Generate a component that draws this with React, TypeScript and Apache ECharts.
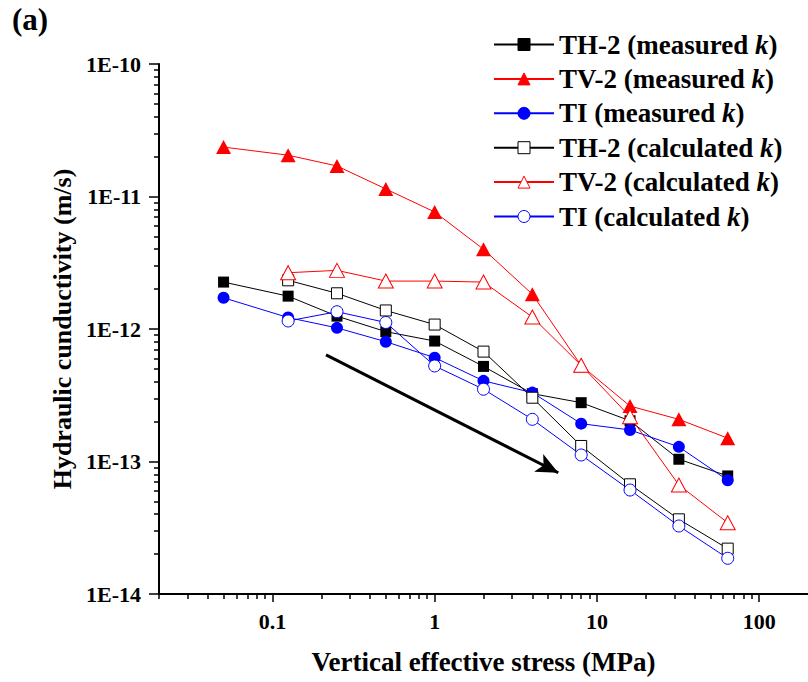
import React, { useEffect, useRef } from 'react';
import * as echarts from 'echarts';

// ---------- data ----------
const stressMeasured = [0.05, 0.125, 0.25, 0.5, 1, 2, 4, 8, 16, 32, 64];
const stressCalculated = [0.125, 0.25, 0.5, 1, 2, 4, 8, 16, 32, 64];

const th2Measured = [2.26e-12, 1.77e-12, 1.25e-12, 9.55e-13, 8.11e-13, 5.22e-13, 3.25e-13, 2.78e-13, 2.03e-13, 1.04e-13, 7.78e-14];
const tv2Measured = [2.36e-11, 2.05e-11, 1.7e-11, 1.14e-11, 7.64e-12, 4.0e-12, 1.83e-12, 5.3e-13, 2.62e-13, 2.08e-13, 1.5e-13];
const tiMeasured = [1.72e-12, 1.22e-12, 1.02e-12, 8.02e-13, 6.08e-13, 4.06e-13, 3.31e-13, 1.93e-13, 1.73e-13, 1.29e-13, 7.22e-14];

const th2Calculated = [2.33e-12, 1.86e-12, 1.38e-12, 1.08e-12, 6.75e-13, 3.03e-13, 1.31e-13, 6.73e-14, 3.66e-14, 2.2e-14];
const tv2Calculated = [2.66e-12, 2.77e-12, 2.3e-12, 2.3e-12, 2.26e-12, 1.23e-12, 5.32e-13, 2.18e-13, 6.65e-14, 3.45e-14];
const tiCalculated = [1.15e-12, 1.35e-12, 1.12e-12, 5.26e-13, 3.51e-13, 2.08e-13, 1.12e-13, 6.09e-14, 3.26e-14, 1.86e-14];

const xMajorTicks = [0.1, 1, 10, 100];
const yMajorTicks = [1e-14, 1e-13, 1e-12, 1e-11, 1e-10];
const xDecades = [0.01, 0.1, 1, 10];
const yDecades = [1e-14, 1e-13, 1e-12, 1e-11];
const minorMultipliers = [2, 3, 4, 5, 6, 7, 8, 9];

// trend arrow (data coordinates: start, tip)
const arrowStart = [0.214, 6.37e-13];
const arrowEnd = [5.78, 8.22e-14];

const X_MIN = 0.02;
const X_MAX = 200;
const Y_MIN = 1e-14;
const Y_MAX = 1e-10;

const FONT = '"Liberation Serif", "Times New Roman", serif';

const xMinorTicks = xDecades
  .flatMap((d) => minorMultipliers.map((m) => Number((d * m).toPrecision(3))))
  .filter((v) => v >= X_MIN && v <= X_MAX);
const yMinorTicks = yDecades.flatMap((d) => minorMultipliers.map((m) => Number((d * m).toPrecision(3))));

type Spec = {
  name: string;
  xs: number[];
  ys: number[];
  symbol: string;
  size: number | number[];
  color: string;
  open: boolean;
};

const specs: Spec[] = [
  { name: 'TH-2 (measured k)', xs: stressMeasured, ys: th2Measured, symbol: 'rect', size: 11, color: '#000000', open: false },
  { name: 'TV-2 (measured k)', xs: stressMeasured, ys: tv2Measured, symbol: 'triangle', size: [15, 14], color: '#ff0000', open: false },
  { name: 'TI (measured k)', xs: stressMeasured, ys: tiMeasured, symbol: 'circle', size: 12, color: '#0000ff', open: false },
  { name: 'TH-2 (calculated k)', xs: stressCalculated, ys: th2Calculated, symbol: 'rect', size: 11, color: '#000000', open: true },
  { name: 'TV-2 (calculated k)', xs: stressCalculated, ys: tv2Calculated, symbol: 'triangle', size: [15, 14], color: '#ff0000', open: true },
  { name: 'TI (calculated k)', xs: stressCalculated, ys: tiCalculated, symbol: 'circle', size: 12, color: '#0000ff', open: true },
];

const fmtNum = (v: number) => String(Number(Number(v).toPrecision(3)));

export default function App() {
  const ref = useRef<HTMLDivElement>(null);

  useEffect(() => {
    if (!ref.current) return;
    const chart = echarts.init(ref.current, null, { renderer: 'svg' });

    const series: any[] = specs.map((s, i) => ({
      type: 'line',
      name: s.name,
      xAxisIndex: 0,
      yAxisIndex: 0,
      data: s.xs.map((x, k) => [x, s.ys[k]]),
      symbol: s.symbol,
      symbolSize: s.size,
      showAllSymbol: true,
      z: 2 + i,
      lineStyle: { color: s.color, width: 1 },
      itemStyle: s.open
        ? { color: '#ffffff', borderColor: s.color, borderWidth: 1 }
        : { color: s.color, borderColor: s.color, borderWidth: 0 },
      emphasis: { disabled: true },
    }));

    series[0].markLine = {
      silent: true,
      animation: false,
      symbol: ['none', 'arrow'],
      symbolSize: [15, 22],
      lineStyle: { color: '#000', width: 3, type: 'solid' },
      label: { show: false },
      data: [[{ coord: arrowStart }, { coord: arrowEnd }]],
    };

    const tickLabelStyle = {
      fontFamily: FONT,
      fontWeight: 'bold',
      fontSize: 22,
      color: '#000',
    };
    const nameStyle = {
      fontFamily: FONT,
      fontWeight: 'bold',
      color: '#000',
    };

    const option: any = {
      animation: false,
      backgroundColor: '#ffffff',
      grid: {
        left: 159,
        right: 0,
        top: 64,
        bottom: 88,
        containLabel: false,
        outerBoundsMode: 'none',
      },
      graphic: [
        {
          type: 'text',
          left: 12,
          top: 4,
          style: { text: '(a)', font: `bold 31px ${FONT}`, fill: '#000' },
        },
      ],
      legend: {
        orient: 'vertical',
        left: 493,
        top: 31,
        padding: 0,
        itemWidth: 60,
        itemHeight: 15,
        itemGap: 7.4,
        itemStyle: { borderWidth: 1 },
        data: specs.map((s) => s.name),
        formatter: (name: string) => `{b|${name.replace(/k\)$/, '')}}{i|k}{b|)}`,
        textStyle: {
          rich: {
            b: { fontFamily: FONT, fontWeight: 'bold', fontSize: 27, color: '#000', lineHeight: 28 },
            i: { fontFamily: FONT, fontWeight: 'bold', fontStyle: 'italic', fontSize: 27, color: '#000', lineHeight: 28 },
          },
        },
        selectedMode: false,
      },
      xAxis: [
        {
          type: 'log',
          logBase: 10,
          min: X_MIN,
          max: X_MAX,
          position: 'bottom',
          name: 'Vertical effective stress (MPa)',
          nameLocation: 'middle',
          nameGap: 54,
          nameTextStyle: { ...nameStyle, fontSize: 27 },
          axisLine: { show: true, onZero: false, lineStyle: { color: '#000', width: 2 } },
          axisTick: { show: true, inside: false, length: 8, customValues: xMajorTicks, lineStyle: { color: '#000', width: 1.5 } },
          axisLabel: { ...tickLabelStyle, margin: 16, customValues: xMajorTicks, formatter: (v: number) => fmtNum(v) },
          splitLine: { show: false },
          minorTick: { show: false },
          minorSplitLine: { show: false },
        },
        {
          type: 'log',
          logBase: 10,
          min: X_MIN,
          max: X_MAX,
          position: 'bottom',
          axisLine: { show: false },
          axisTick: { show: true, inside: false, length: 5, customValues: xMinorTicks, lineStyle: { color: '#000', width: 1.5 } },
          axisLabel: { show: false },
          splitLine: { show: false },
        },
      ],
      yAxis: [
        {
          type: 'log',
          logBase: 10,
          min: Y_MIN,
          max: Y_MAX,
          position: 'left',
          name: 'Hydraulic cunductivity (m/s)',
          nameLocation: 'middle',
          nameGap: 78,
          nameTextStyle: { ...nameStyle, fontSize: 26 },
          axisLine: { show: true, onZero: false, lineStyle: { color: '#000', width: 2 } },
          axisTick: { show: true, inside: false, length: 10, customValues: yMajorTicks, lineStyle: { color: '#000', width: 1.5 } },
          axisLabel: {
            ...tickLabelStyle,
            margin: 18,
            customValues: yMajorTicks,
            formatter: (v: number) => `1E${Math.round(Math.log10(v))}`,
          },
          splitLine: { show: false },
          minorTick: { show: false },
        },
        {
          type: 'log',
          logBase: 10,
          min: Y_MIN,
          max: Y_MAX,
          position: 'left',
          axisLine: { show: false },
          axisTick: { show: true, inside: false, length: 5, customValues: yMinorTicks, lineStyle: { color: '#000', width: 1.5 } },
          axisLabel: { show: false },
          splitLine: { show: false },
        },
      ],
      series,
    };

    chart.setOption(option);
    return () => chart.dispose();
  }, []);

  return (
    <div
      ref={ref}
      style={{ position: 'fixed', left: 0, top: 0, width: 808, height: 682, background: '#fff' }}
    />
  );
}
